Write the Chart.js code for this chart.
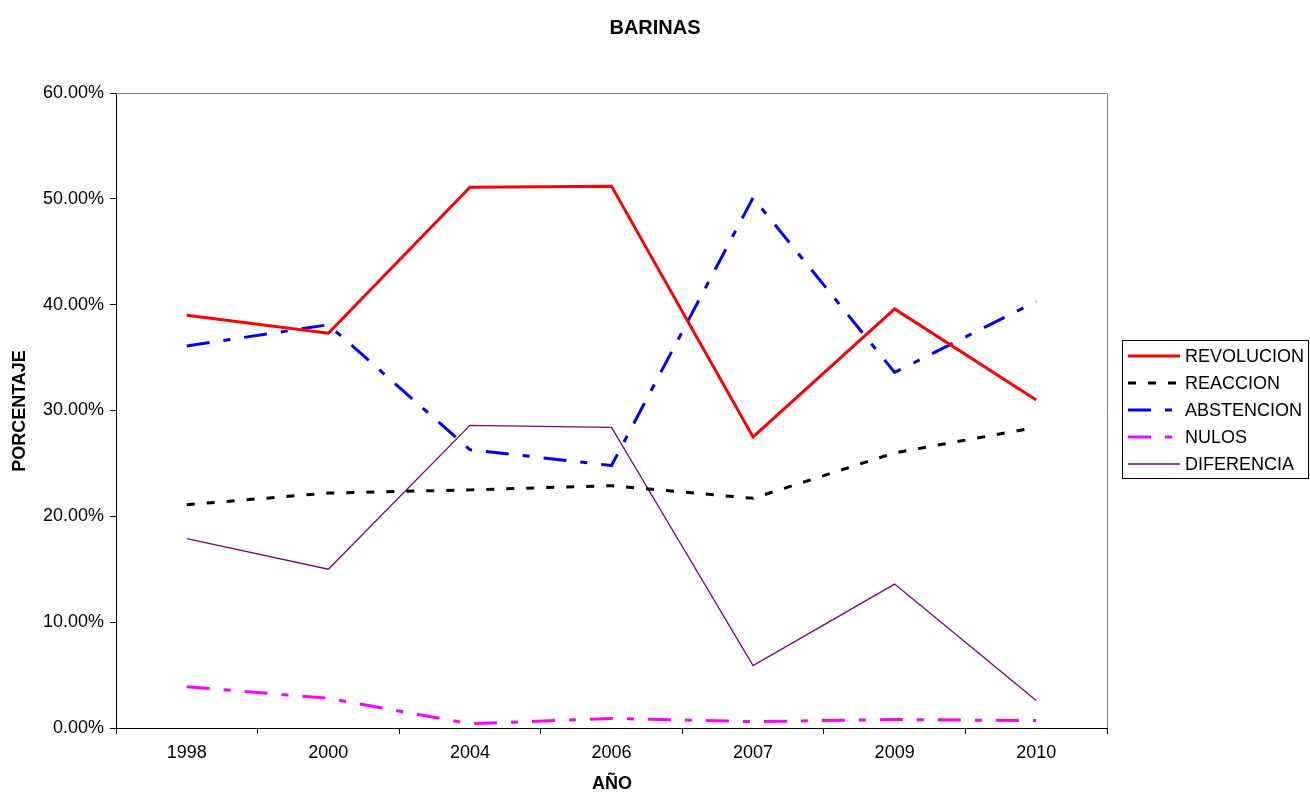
<!DOCTYPE html>
<html>
<head>
<meta charset="utf-8">
<script src="https://cdn.jsdelivr.net/npm/chart.js@4"></script>
<style>
  html, body { margin: 0; padding: 0; background: #fff; }
  #wrap { width: 1310px; height: 792px; }
</style>
</head>
<body>
<div id="wrap"><canvas id="c" width="1310" height="792"></canvas></div>
<script>
const years = ["1998", "2000", "2004", "2006", "2007", "2009", "2010"];
const revolucion = [39.0, 37.3, 51.1, 51.2, 27.5, 39.6, 31.0];
const reaccion = [21.1, 22.2, 22.5, 22.9, 21.7, 26.0, 28.4];
const abstencion = [36.1, 38.1, 26.3, 24.8, 50.1, 33.6, 40.3];
const nulos = [3.9, 2.8, 0.4, 0.9, 0.6, 0.8, 0.7];
const diferencia = [17.9, 15.0, 28.6, 28.4, 5.9, 13.6, 2.6];

const dashDot = [23, 14, 7, 14];
const FONT = "Arial, 'Liberation Sans'";

// frame, titles and boxed legend
const decorPlugin = {
    id: 'decor',
    afterDraw(chart) {
        const {ctx, chartArea: a} = chart;
        ctx.save();
        ctx.strokeStyle = "#808080";
        ctx.lineWidth = 1;
        ctx.beginPath();
        ctx.moveTo(a.left, a.top + 0.5);
        ctx.lineTo(a.right + 0.5, a.top + 0.5);
        ctx.lineTo(a.right + 0.5, a.bottom);
        ctx.stroke();

        ctx.fillStyle = "#000";
        ctx.font = "bold 20px " + FONT;
        ctx.textAlign = "center";
        ctx.textBaseline = "middle";
        ctx.fillText("BARINAS", 655, 28);
        ctx.font = "bold 18px " + FONT;
        ctx.fillText("AÑO", 612, 784);
        ctx.save();
        ctx.translate(20, 411);
        ctx.rotate(-Math.PI / 2);
        ctx.fillText("PORCENTAJE", 0, 0);
        ctx.restore();

        // legend
        const lx = 1122, ly = 340, lw = 186, lh = 138;
        ctx.fillStyle = "#fff";
        ctx.fillRect(lx, ly, lw, lh);
        ctx.strokeStyle = "#000";
        ctx.lineWidth = 1;
        ctx.strokeRect(lx + 0.5, ly + 0.5, lw, lh);
        ctx.font = "18px " + FONT;
        ctx.textAlign = "left";
        chart.data.datasets.forEach((ds, i) => {
            const y = ly + 16 + i * 27;
            ctx.save();
            ctx.strokeStyle = ds.borderColor;
            ctx.lineWidth = ds.borderWidth;
            ctx.setLineDash(ds.borderDash || []);
            ctx.beginPath();
            ctx.moveTo(lx + 6, y);
            ctx.lineTo(lx + 58, y);
            ctx.stroke();
            ctx.restore();
            ctx.fillStyle = "#000";
            ctx.fillText(ds.label, lx + 63, y + 1);
        });
        ctx.restore();
    }
};

new Chart(document.getElementById('c'), {
    type: 'line',
    data: {
        labels: years,
        datasets: [
            { label: "REVOLUCION", data: revolucion, borderColor: "#ff0000", borderWidth: 3 },
            { label: "REACCION", data: reaccion, borderColor: "#000000", borderWidth: 3, borderDash: [8, 12] },
            { label: "ABSTENCION", data: abstencion, borderColor: "#0000ff", borderWidth: 3, borderDash: dashDot },
            { label: "NULOS", data: nulos, borderColor: "#ff00ff", borderWidth: 3, borderDash: dashDot },
            { label: "DIFERENCIA", data: diferencia, borderColor: "#800080", borderWidth: 1.3 }
        ]
    },
    options: {
        responsive: false,
        animation: false,
        layout: { padding: { top: 93, right: 203, left: 0, bottom: 0 } },
        elements: {
            point: { radius: 0 },
            line: { tension: 0, borderCapStyle: 'butt', borderJoinStyle: 'miter' }
        },
        plugins: {
            legend: { display: false },
            tooltip: { enabled: false },
            title: { display: false }
        },
        scales: {
            x: {
                offset: true,
                afterFit(scale) { scale.height = 64; },
                grid: { drawOnChartArea: false, offset: true, tickLength: 6, color: "#000" },
                border: { color: "#000", width: 1 },
                ticks: { color: "#000", font: { size: 18, family: FONT }, padding: 8, maxRotation: 0 }
            },
            y: {
                min: 0,
                max: 60,
                afterFit(scale) { scale.width = 116; },
                grid: { drawOnChartArea: false, tickLength: 6, color: "#000" },
                border: { color: "#000", width: 1 },
                ticks: {
                    stepSize: 10,
                    color: "#000",
                    padding: 6,
                    font: { size: 18, family: FONT },
                    callback: v => v.toFixed(2) + "%"
                }
            }
        }
    },
    plugins: [decorPlugin]
});
</script>
</body>
</html>
